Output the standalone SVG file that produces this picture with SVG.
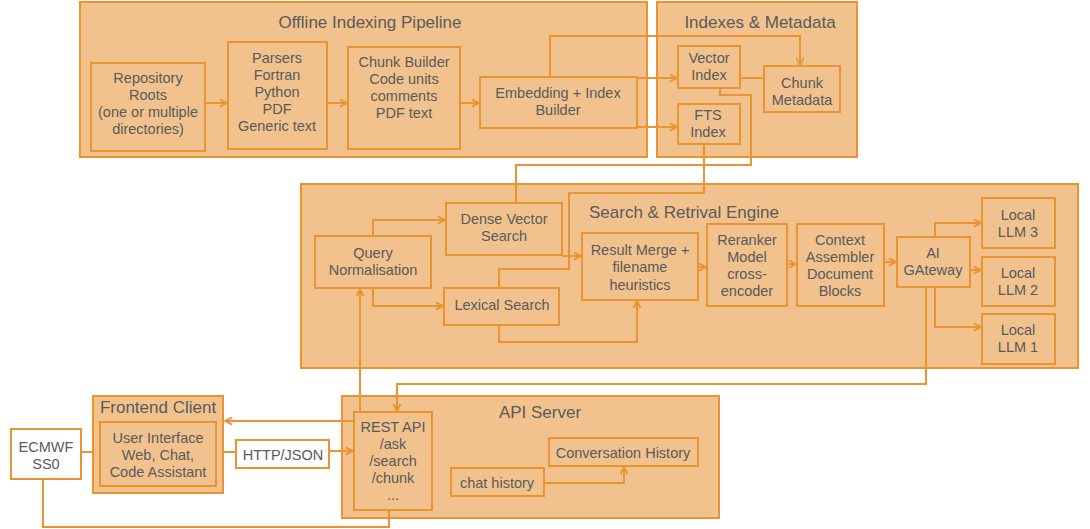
<svg xmlns="http://www.w3.org/2000/svg" width="1090" height="529" viewBox="0 0 1090 529">
<style>
.c{fill:#f1c28e;stroke:#e99430;stroke-width:2}
.n{fill:#f1c28e;stroke:#e99430;stroke-width:2}
.w{fill:#ffffff;stroke:#e99430;stroke-width:2}
text{font-family:"Liberation Sans",Arial,sans-serif;font-size:14.5px;fill:#5a5a5a;text-anchor:middle;dominant-baseline:central}
.t{font-size:17px}
.e path,.e polyline,.e line{fill:none;stroke:#e99430;stroke-width:2}
</style>
<defs>
<marker id="a" viewBox="0 0 10 10" refX="9" refY="5" markerWidth="9" markerHeight="9" markerUnits="userSpaceOnUse" orient="auto">
<path d="M1,1 L9,5 L1,9" fill="none" stroke="#e99430" stroke-width="2"/>
</marker>
</defs>
<rect width="1090" height="529" fill="#ffffff"/>

<g id="offline-pipeline"><rect class="c" x="80" y="2" width="567" height="155"/><text class="t" x="370" y="22">Offline Indexing Pipeline</text></g>
<g id="indexes-metadata"><rect class="c" x="657" y="2" width="200" height="155"/><text class="t" x="760" y="22">Indexes &amp; Metadata</text></g>
<g id="search-engine"><rect class="c" x="301" y="184" width="777" height="184"/><text class="t" x="684" y="212">Search &amp; Retrival Engine</text></g>
<g id="frontend-client"><rect class="c" x="93" y="396" width="130" height="97"/><text class="t" x="158" y="407">Frontend Client</text></g>
<g id="api-server"><rect class="c" x="342" y="396" width="377" height="122"/><text class="t" x="540" y="412">API Server</text></g>

<g id="connectors" class="e">
<line x1="205" y1="103" x2="227" y2="103" marker-end="url(#a)"/>
<line x1="327" y1="103" x2="347" y2="103" marker-end="url(#a)"/>
<line x1="460" y1="103" x2="479" y2="103" marker-end="url(#a)"/>
<polyline points="550,77 550,36 800,36 800,65" marker-end="url(#a)"/>
<line x1="637" y1="78" x2="677" y2="78" marker-end="url(#a)"/>
<line x1="637" y1="127" x2="677" y2="127" marker-end="url(#a)"/>
<line x1="740" y1="78" x2="764" y2="78"/>
<polyline points="720,88 720,95 751,95 751,165 516,165 516,203"/>
<polyline points="704,144 704,193 569,193 569,269 499,269 499,288"/>
<polyline points="373,236 373,220 445,220" marker-end="url(#a)"/>
<polyline points="373,288 373,306 443,306" marker-end="url(#a)"/>
<line x1="562" y1="256" x2="581" y2="256" marker-end="url(#a)"/>
<polyline points="499,325 499,342 637,342 637,301" marker-end="url(#a)"/>
<line x1="698" y1="267" x2="706" y2="267" marker-end="url(#a)"/>
<line x1="787" y1="264" x2="796" y2="264" marker-end="url(#a)"/>
<line x1="884" y1="262" x2="896" y2="262" marker-end="url(#a)"/>
<polyline points="935,237 935,223 981,223" marker-end="url(#a)"/>
<line x1="970" y1="270" x2="981" y2="270" marker-end="url(#a)"/>
<polyline points="935,287 935,327 981,327" marker-end="url(#a)"/>
<polyline points="926,287 926,384 397,384 397,411" marker-end="url(#a)"/>
<line x1="360" y1="412" x2="360" y2="289" marker-end="url(#a)"/>
<line x1="354" y1="421" x2="225" y2="421" marker-end="url(#a)"/>
<line x1="81" y1="452" x2="93" y2="452"/>
<line x1="223" y1="452" x2="236" y2="452"/>
<line x1="329" y1="451" x2="353" y2="451" marker-end="url(#a)"/>
<polyline points="43,479 43,527 389,527 389,510"/>
<polyline points="544,483 624,483 624,467" marker-end="url(#a)"/>
</g>

<g id="repository-roots"><rect class="n" x="91" y="63" width="114" height="88"/><text x="148" y="78">Repository</text><text x="148" y="95">Roots</text><text x="148" y="112">(one or multiple</text><text x="148" y="129">directories)</text></g>
<g id="parsers"><rect class="n" x="228" y="42" width="99" height="107"/><text x="277" y="58">Parsers</text><text x="277" y="75">Fortran</text><text x="277" y="92">Python</text><text x="277" y="109">PDF</text><text x="277" y="126">Generic text</text></g>
<g id="chunk-builder"><rect class="n" x="348" y="47" width="112" height="102"/><text x="404" y="62">Chunk Builder</text><text x="404" y="79">Code units</text><text x="404" y="96">comments</text><text x="404" y="113">PDF text</text></g>
<g id="embedding-builder"><rect class="n" x="480" y="77" width="157" height="51"/><text x="558" y="93">Embedding + Index</text><text x="558" y="110">Builder</text></g>
<g id="vector-index"><rect class="n" x="678" y="46" width="62" height="42"/><text x="709" y="58">Vector</text><text x="709" y="75">Index</text></g>
<g id="fts-index"><rect class="n" x="678" y="104" width="62" height="40"/><text x="708" y="115">FTS</text><text x="708" y="132">Index</text></g>
<g id="chunk-metadata"><rect class="n" x="764" y="66" width="76" height="46"/><text x="802" y="83">Chunk</text><text x="802" y="100">Metadata</text></g>

<g id="query-normalisation"><rect class="n" x="315" y="236" width="116" height="52"/><text x="373" y="253">Query</text><text x="373" y="270">Normalisation</text></g>
<g id="dense-vector-search"><rect class="n" x="446" y="203" width="116" height="52"/><text x="504" y="219">Dense Vector</text><text x="504" y="236">Search</text></g>
<g id="lexical-search"><rect class="n" x="444" y="288" width="115" height="37"/><text x="502" y="305">Lexical Search</text></g>
<g id="result-merge"><rect class="n" x="582" y="233" width="116" height="67"/><text x="640" y="250">Result Merge +</text><text x="640" y="267">filename</text><text x="640" y="285">heuristics</text></g>
<g id="reranker"><rect class="n" x="707" y="224" width="80" height="82"/><text x="747" y="240">Reranker</text><text x="747" y="257">Model</text><text x="747" y="274">cross-</text><text x="747" y="291">encoder</text></g>
<g id="context-assembler"><rect class="n" x="797" y="224" width="87" height="82"/><text x="840" y="240">Context</text><text x="840" y="257">Assembler</text><text x="840" y="274">Document</text><text x="840" y="291">Blocks</text></g>
<g id="ai-gateway"><rect class="n" x="897" y="237" width="73" height="50"/><text x="933" y="253">AI</text><text x="933" y="270">GAteway</text></g>
<g id="local-llm-3"><rect class="n" x="982" y="198" width="73" height="50"/><text x="1018" y="215">Local</text><text x="1018" y="232">LLM 3</text></g>
<g id="local-llm-2"><rect class="n" x="982" y="257" width="73" height="49"/><text x="1018" y="273">Local</text><text x="1018" y="290">LLM 2</text></g>
<g id="local-llm-1"><rect class="n" x="982" y="314" width="73" height="50"/><text x="1018" y="330">Local</text><text x="1018" y="347">LLM 1</text></g>

<g id="ecmwf-sso"><rect class="w" x="11" y="429" width="70" height="50"/><text x="46" y="447">ECMWF</text><text x="46" y="464">SS0</text></g>
<g id="user-interface"><rect class="n" x="100" y="422" width="116" height="64"/><text x="158" y="438">User Interface</text><text x="158" y="455">Web, Chat,</text><text x="158" y="472">Code Assistant</text></g>
<g id="http-json"><rect class="w" x="236" y="440" width="93" height="28"/><text x="283" y="455">HTTP/JSON</text></g>
<g id="rest-api"><rect class="n" x="354" y="412" width="78" height="98"/><text x="393" y="427">REST API</text><text x="393" y="444">/ask</text><text x="393" y="461">/search</text><text x="393" y="478">/chunk</text><text x="393" y="495">...</text></g>
<g id="conversation-history"><rect class="n" x="549" y="438" width="149" height="28"/><text x="623" y="453">Conversation History</text></g>
<g id="chat-history"><rect class="n" x="451" y="468" width="93" height="28"/><text x="497" y="483">chat history</text></g>
</svg>
